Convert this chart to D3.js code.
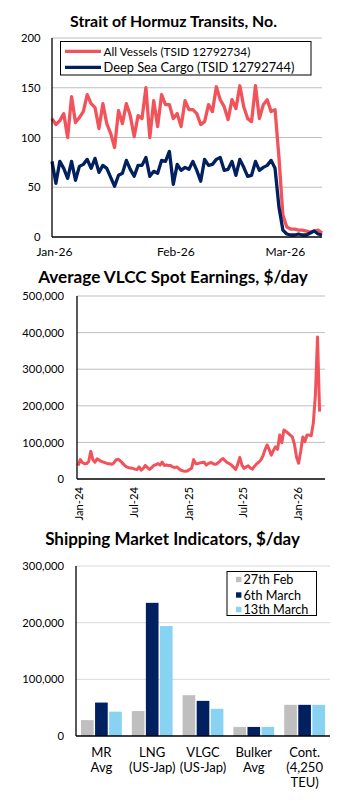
<!DOCTYPE html>
<html><head><meta charset="utf-8">
<script src="https://cdn.jsdelivr.net/npm/d3@7"></script>
<style>
body{margin:0;background:#fff}
svg{display:block}
text{font-family:Lato,"DejaVu Sans",sans-serif;fill:#000}
</style>
</head><body>
<svg id="c" width="357" height="801"></svg>
<script>
// ---------- DATA ----------
// Chart 1: Strait of Hormuz transits, daily from 1 Jan 2026
const hormuzStart = "2026-01-01";
const allVessels = [119,113,117,124,100,141,115,120,126,143,134,130,109,134,114,104,90,127,114,134,
  122,101,122,119,150,100,137,111,143,133,133,119,124,111,137,128,128,124,113,116,
  133,126,151,138,131,118,138,129,152,131,119,116,152,119,133,138,126,128,80,22,
  10,8,8,7,7,6,5,6,7,4];
const deepSeaCargo = [76,54,76,69,59,76,57,71,73,78,69,79,65,72,69,60,51,62,64,77,
  68,61,72,72,80,61,66,64,77,76,86,53,73,67,70,68,76,67,56,78,
  72,73,78,80,67,68,76,62,78,70,61,62,76,67,70,72,77,69,30,7,
  3,2,2,3,2,2,4,6,3,2];
const hormuzSeries = ["All Vessels (TSID 12792734)", "Deep Sea Cargo (TSID 12792744)"];
const hormuzXTicks = ["2026-01-01","2026-02-01","2026-03-01"];
const hormuzYTicks = [0,50,100,150,200];

// Chart 2: Average VLCC spot earnings, weekly from 5 Jan 2024 ($'000/day)
const vlccStart = "2024-01-05";
const vlccEarnings = [37,53,45,42,42,48,76,52,46,55,52,48,46,44,42,42,40,44,52,54,
  50,44,38,33,31,30,29,27,26,33,24,29,37,31,26,31,37,39,42,38,
  46,37,38,37,37,33,31,33,28,24,22,21,22,26,29,53,42,42,44,45,
  46,38,42,45,43,40,41,46,52,56,50,45,42,38,32,26,40,59,38,29,
  33,36,30,27,35,41,46,52,63,80,93,80,65,78,88,81,120,99,134,130,
  125,120,115,95,60,43,75,115,102,120,120,118,152,230,388,184].map(v => v * 1000);
const vlccXTicks = ["2024-01-01","2024-07-01","2025-01-01","2025-07-01","2026-01-01"];
const vlccYTicks = [0,100000,200000,300000,400000,500000];

// Chart 3: Shipping market indicators ($/day)
const marketCategories = [["MR","Avg"],["LNG","(US-Jap)"],["VLGC","(US-Jap)"],["Bulker","Avg"],["Cont.","(4,250","TEU)"]];
const marketSeries = ["27th Feb","6th March","13th March"];
const feb27 = [28000, 44000, 72000, 16000, 55000];
const mar6 = [59000, 235000, 62000, 16000, 55000];
const mar13 = [43000, 194000, 48000, 16000, 55000];
const marketYTicks = [0,100000,200000,300000];

// ---------- STYLE ----------
const RED = "#F2525A", NAVY = "#002060", GREY = "#BFBFBF", LIGHT = "#88D3F1";
const svg = d3.select("#c");
const fmtK = d3.format(",");

function fit(sel, target){
  const w = sel.node().getComputedTextLength();
  const fs = parseFloat(sel.attr("font-size"));
  sel.attr("font-size", (fs*target/w).toFixed(2));
  return sel;
}
function sizeFor(str, target){
  const p = svg.append("text").attr("font-size",20).text(str);
  const fs = 20*target/p.node().getComputedTextLength();
  p.remove();
  return fs;
}
const TICK_FS = sizeFor("500,000", 41.7);
const H_TICK_FS = sizeFor("Jan-26", 36);
const CAT_FS = sizeFor("(US-Jap)", 46.5);
const LEG3_FS = sizeFor("13th March", 65);

function title(txt, cx, y, w){
  const t = svg.append("text").attr("x",cx).attr("y",y).attr("text-anchor","middle")
    .attr("font-weight",700).attr("font-size",16).text(txt);
  fit(t, w);
}
function styleAxis(g, fs){
  g.select(".domain").remove();
  g.selectAll(".tick line").remove();
  g.selectAll("text").attr("font-size",fs||TICK_FS).attr("font-family","Lato,'DejaVu Sans',sans-serif").attr("fill","#000");
}

// ---------- CHART 1 ----------
title("Strait of Hormuz Transits, No.", 173.5, 27, 207);
{
  const dates = allVessels.map((_,i)=>d3.utcDay.offset(new Date(hormuzStart+"T00:00:00Z"), i));
  const x = d3.scaleUtc().domain([dates[0], dates[dates.length-1]]).range([52,322]);
  const y = d3.scaleLinear().domain([0,200]).range([237,38]);
  svg.append("g").selectAll("line").data(hormuzYTicks.slice(1)).join("line")
    .attr("x1",52).attr("x2",322).attr("y1",d=>y(d)).attr("y2",d=>y(d))
    .attr("stroke","#BFBFBF").attr("stroke-width",1);
  const ya = svg.append("g").attr("transform","translate(40.5,0)")
    .call(d3.axisLeft(y).tickValues(hormuzYTicks).tickSize(0).tickPadding(0));
  styleAxis(ya, TICK_FS);
  const xa = svg.append("g").attr("transform","translate(0,247)")
    .call(d3.axisBottom(x).tickValues(hormuzXTicks.map(s=>new Date(s+"T00:00:00Z"))).tickSize(0).tickPadding(0).tickFormat(d3.utcFormat("%b-%y")));
  styleAxis(xa, H_TICK_FS);
  xa.selectAll("text").attr("dy","0.71em").attr("transform","translate(2,0)");
  const line = d3.line().x((d,i)=>x(dates[i])).y(d=>y(d));
  svg.append("path").datum(allVessels).attr("d",line).attr("fill","none").attr("stroke",RED).attr("stroke-width",3.3).attr("stroke-linejoin","round");
  svg.append("path").datum(deepSeaCargo).attr("d",line).attr("fill","none").attr("stroke",NAVY).attr("stroke-width",3.3).attr("stroke-linejoin","round");
  svg.append("line").attr("x1",52).attr("x2",52).attr("y1",38).attr("y2",237).attr("stroke","#000").attr("stroke-width",1.3);
  svg.append("line").attr("x1",52).attr("x2",322).attr("y1",237).attr("y2",237).attr("stroke","#000").attr("stroke-width",1.3);
  // legend
  svg.append("rect").attr("x",60.5).attr("y",41.5).attr("width",250.5).attr("height",33.5).attr("fill","#fff").attr("stroke","#000").attr("stroke-width",1);
  const cols = [RED, NAVY], ly = [51.3, 67.3], lw = [147, 191];
  hormuzSeries.forEach((s,i)=>{
    svg.append("line").attr("x1",65).attr("x2",101).attr("y1",ly[i]).attr("y2",ly[i]).attr("stroke",cols[i]).attr("stroke-width",3.3);
    const t = svg.append("text").attr("x",103.5).attr("y",ly[i]).attr("dy","0.36em").attr("font-size",12).text(s);
    fit(t, lw[i]);
  });
}

// ---------- CHART 2 ----------
title("Average VLCC Spot Earnings, $/day", 173, 283, 270);
{
  const dates = vlccEarnings.map((_,i)=>d3.utcDay.offset(new Date(vlccStart+"T00:00:00Z"), 7*i));
  const x = d3.scaleUtc().domain([new Date("2024-01-01T00:00:00Z"), new Date("2026-04-07T00:00:00Z")]).range([77,325]);
  const y = d3.scaleLinear().domain([0,500000]).range([479,296]);
  svg.append("g").selectAll("line").data(vlccYTicks.slice(1)).join("line")
    .attr("x1",77).attr("x2",325).attr("y1",d=>y(d)).attr("y2",d=>y(d))
    .attr("stroke","#BFBFBF").attr("stroke-width",1);
  const ya = svg.append("g").attr("transform","translate(64,0)")
    .call(d3.axisLeft(y).tickValues(vlccYTicks).tickSize(0).tickPadding(0).tickFormat(fmtK));
  styleAxis(ya);
  const xa = svg.append("g").attr("transform","translate(0,0)")
    .call(d3.axisBottom(x).tickValues(vlccXTicks.map(s=>new Date(s+"T00:00:00Z"))).tickSize(0).tickPadding(0).tickFormat(d3.utcFormat("%b-%y")));
  styleAxis(xa);
  xa.selectAll(".tick").attr("transform", d=>`translate(${x(d)+2},487)`);
  xa.selectAll("text").attr("transform","rotate(-90)").attr("text-anchor","end").attr("dy","0.35em").attr("y",0).attr("x",0);
  const line = d3.line().x((d,i)=>x(dates[i])).y(d=>y(d));
  svg.append("path").datum(vlccEarnings).attr("d",line).attr("fill","none").attr("stroke",RED).attr("stroke-width",3).attr("stroke-linejoin","round");
  svg.append("line").attr("x1",77).attr("x2",77).attr("y1",296).attr("y2",479).attr("stroke","#000").attr("stroke-width",1.3);
  svg.append("line").attr("x1",77).attr("x2",325).attr("y1",479).attr("y2",479).attr("stroke","#000").attr("stroke-width",1.3);
}

// ---------- CHART 3 ----------
title("Shipping Market Indicators, $/day", 172.5, 545, 255);
{
  const x0 = d3.scaleBand().domain(d3.range(marketCategories.length)).range([76,330]);
  const x1 = d3.scaleBand().domain(marketSeries).range([5, x0.bandwidth()-5]).paddingInner(0.1);
  const y = d3.scaleLinear().domain([0,300000]).range([736,566]);
  svg.append("g").selectAll("line").data(marketYTicks.slice(1)).join("line")
    .attr("x1",76).attr("x2",330).attr("y1",d=>y(d)).attr("y2",d=>y(d))
    .attr("stroke","#D9D9D9").attr("stroke-width",1);
  const ya = svg.append("g").attr("transform","translate(64,0)")
    .call(d3.axisLeft(y).tickValues(marketYTicks).tickSize(0).tickPadding(0).tickFormat(fmtK));
  styleAxis(ya);
  const vals = [feb27, mar6, mar13], cols = [GREY, NAVY, LIGHT];
  marketSeries.forEach((s,si)=>{
    svg.append("g").selectAll("rect").data(vals[si]).join("rect")
      .attr("x",(d,i)=>x0(i)+x1(s)).attr("width",x1.bandwidth())
      .attr("y",d=>y(d)).attr("height",d=>y(0)-y(d)).attr("fill",cols[si]);
  });
  svg.append("line").attr("x1",76).attr("x2",76).attr("y1",566).attr("y2",736).attr("stroke","#000").attr("stroke-width",1.3);
  svg.append("line").attr("x1",76).attr("x2",330).attr("y1",736).attr("y2",736).attr("stroke","#000").attr("stroke-width",1.3);
  // category labels
  const xa = svg.append("g").attr("transform","translate(0,757)")
    .call(d3.axisBottom(x0).tickSize(0).tickPadding(0).tickFormat(()=>""));
  styleAxis(xa, CAT_FS);
  xa.selectAll(".tick text").each(function(i){
    const t = d3.select(this).attr("y",0).attr("dy",0);
    marketCategories[i].forEach((ln,k)=>{
      t.append("tspan").attr("x",0).attr("y",k*14.8).text(ln);
    });
  });
  // legend
  svg.append("rect").attr("x",227).attr("y",571.5).attr("width",89.5).attr("height",44).attr("fill","#fff").attr("stroke","#000").attr("stroke-width",1);
  const ly = [579.5, 595, 609.5];
  marketSeries.forEach((s,i)=>{
    svg.append("rect").attr("x",236).attr("y",ly[i]-2.7).attr("width",5.4).attr("height",5.4).attr("fill",cols[i]);
    svg.append("text").attr("x",243.5).attr("y",ly[i]).attr("dy","0.36em").attr("font-size",LEG3_FS).text(s);
  });
}
</script>
</body></html>
